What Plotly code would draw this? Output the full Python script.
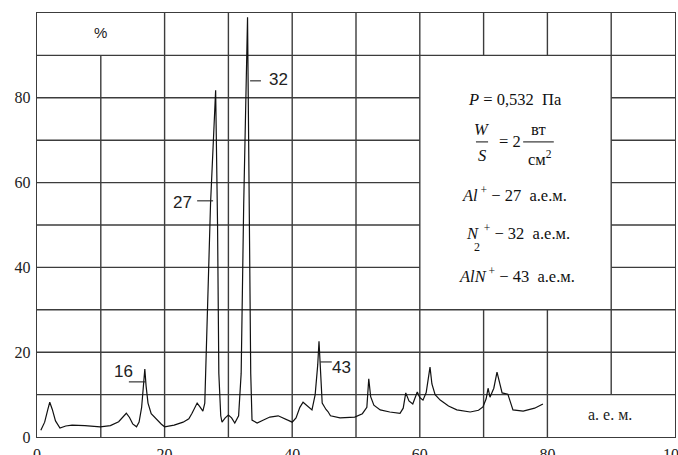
import plotly.graph_objects as go

# Mass spectrum (a.m.u. vs %)
mass = [0.6, 1.2, 1.7, 2.0, 2.4, 2.9, 3.6, 4.5, 5.5, 7.5, 9.9, 11.5, 12.8, 13.6, 14.0, 14.5,
        15.0, 15.6, 16.0, 16.4, 16.7, 16.9, 17.1, 17.4, 17.9, 18.8, 19.5, 20.0, 21.5, 22.9,
        23.8, 24.3, 24.7, 25.1, 25.6, 26.0, 26.3, 26.6, 27.2, 28.0, 28.3, 28.5, 28.8, 29.0,
        29.5, 30.0, 30.5, 31.0, 31.6, 32.0, 32.4, 33.0, 33.3, 33.5, 33.7, 34.5, 35.5, 36.5,
        37.8, 39.0, 40.0, 40.6, 41.2, 41.7, 42.3, 43.1, 43.6, 44.0, 44.2, 44.4, 44.7, 45.3,
        45.6, 46.0, 47.5, 49.8, 51.0, 51.7, 52.0, 52.3, 52.8, 53.8, 55.3, 56.9, 57.4, 57.8,
        58.3, 58.9, 59.3, 59.6, 60.0, 60.5, 61.0, 61.6, 61.9, 62.4, 63.2, 64.5, 65.8, 67.9,
        69.2, 69.9, 70.4, 70.7, 71.0, 71.6, 72.1, 72.5, 72.9, 73.8, 74.2, 74.6, 76.2, 78.0,
        79.3]
percent = [1.6, 3.5, 6.5, 8.2, 6.5, 3.8, 2.1, 2.6, 2.8, 2.7, 2.4, 2.7, 3.6, 4.8, 5.6, 4.6,
           3.1, 2.4, 3.5, 7.0, 12.0, 16.0, 12.0, 8.0, 5.5, 4.0, 3.0, 2.4, 2.8, 3.5,
           4.3, 5.6, 7.0, 8.0, 7.0, 6.1, 8.0, 25, 55, 81.8, 50, 15, 5, 3.5,
           4.5, 5.2, 4.5, 3.3, 5, 15, 55, 99, 55, 15, 4, 3.3, 4.0, 4.7,
           5.0, 4.2, 3.5, 4.5, 7.0, 8.2, 7.5, 6.4, 10, 17, 22.6, 15, 8.0, 6.5,
           6.0, 5.0, 4.5, 4.7, 5.5, 7.0, 13.7, 9.5, 7.5, 6.4, 5.9, 5.6, 6.8, 10.4,
           8.5, 7.8, 9.3, 10.6, 9.3, 8.7, 10.5, 16.5, 12.5, 10, 8.7, 7.3, 6.4, 5.9,
           6.3, 7.1, 9, 11.5, 9.4, 11.5, 15.3, 12.5, 10.4, 10.1, 8, 6.4, 6.1, 6.8,
           7.8]

x_ticks = [0, 20, 40, 60, 80, 100]
y_ticks = [0, 20, 40, 60, 80]
peak_labels = ["16", "27", "32", "43"]

GRID = "#3c3c3c"
SERIF = "Liberation Serif"
SANS = "Liberation Sans"

fig = go.Figure()
fig.add_trace(go.Scatter(x=mass, y=percent, mode="lines",
                         line=dict(color="#111", width=1.2), hoverinfo="skip"))

shapes = []
# irregular grid (merged cells)
vsegs = {10: [(0, 90)], 20: [(0, 100)], 30: [(0, 100)], 40: [(0, 100)], 50: [(0, 100)],
         60: [(0, 100)], 70: [(0, 30), (90, 100)], 80: [(0, 30), (90, 100)], 90: [(10, 100)]}
hsegs = {10: [(0, 100)], 20: [(0, 100)], 30: [(0, 100)], 40: [(0, 60), (90, 100)],
         50: [(0, 60), (90, 100)], 60: [(0, 60), (90, 100)], 70: [(0, 60), (90, 100)],
         80: [(0, 60), (90, 100)], 90: [(0, 100)]}
for xv, segs in vsegs.items():
    for a, b in segs:
        shapes.append(dict(type="line", xref="x", yref="y", x0=xv, x1=xv, y0=a, y1=b,
                           line=dict(color=GRID, width=1.4), layer="below"))
for yv, segs in hsegs.items():
    for a, b in segs:
        shapes.append(dict(type="line", xref="x", yref="y", x0=a, x1=b, y0=yv, y1=yv,
                           line=dict(color=GRID, width=1.4), layer="below"))

# peak leader lines
leaders = [(14.4, 17.0, 13.0), (25.1, 27.6, 55.7), (33.4, 35.1, 84.0), (44.4, 46.2, 17.7)]
for a, b, yv in leaders:
    shapes.append(dict(type="line", xref="x", yref="y", x0=a, x1=b, y0=yv, y1=yv,
                       line=dict(color="#222", width=1.1)))

# fraction bars in the legend box
shapes.append(dict(type="line", xref="x", yref="y", x0=68.8, x1=70.7, y0=69.6, y1=69.6,
                   line=dict(color="#222", width=1.1)))
shapes.append(dict(type="line", xref="x", yref="y", x0=76.2, x1=81.0, y0=69.6, y1=69.6,
                   line=dict(color="#222", width=1.1)))

ann = []
label_pos = [(13.6, 15.5), (22.8, 55.2), (37.9, 84.2), (47.8, 16.3)]
for t, (xa, ya) in zip(peak_labels, label_pos):
    ann.append(dict(x=xa, y=ya, text=t, showarrow=False,
                    font=dict(family=SANS, size=17, color="#222")))
ann.append(dict(x=9.9, y=95.5, text="%", showarrow=False,
                font=dict(family=SANS, size=15, color="#222")))
ann.append(dict(x=89.8, y=5.2, text="а. е. м.", showarrow=False,
                font=dict(family=SERIF, size=16, color="#222")))

lf = dict(family=SERIF, size=16.5, color="#111")
sf = dict(family=SERIF, size=12, color="#111")
ann += [
    dict(x=74.9, y=79.7, text="<i>P</i> = 0,532  Па", showarrow=False, font=lf),
    dict(x=69.7, y=72.6, text="<i>W</i>", showarrow=False, font=lf),
    dict(x=69.7, y=66.3, text="<i>S</i>", showarrow=False, font=lf),
    dict(x=74.1, y=69.6, text="= 2", showarrow=False, font=lf),
    dict(x=78.6, y=72.6, text="вт", showarrow=False, font=lf),
    dict(x=78.8, y=65.6, text="см<sup>2</sup>", showarrow=False, font=lf),
    dict(x=74.9, y=57.1, text="<i>Al</i><sup> +</sup> − 27  а.е.м.", showarrow=False, font=lf),
    dict(x=75.4, y=48.3, text="<i>N</i><sup>  +</sup> − 32  а.е.м.", showarrow=False, font=lf),
    dict(x=68.9, y=44.8, text="2", showarrow=False, font=sf),
    dict(x=75.2, y=38.2, text="<i>AlN</i><sup> +</sup> − 43  а.е.м.", showarrow=False, font=lf),
]

fig.update_layout(
    width=678, height=455,
    margin=dict(l=37, r=3, t=13, b=18),
    paper_bgcolor="white", plot_bgcolor="white",
    showlegend=False, shapes=shapes, annotations=ann,
    xaxis=dict(range=[0, 100], tickvals=x_ticks, ticktext=[str(v) for v in x_ticks],
               showgrid=False, zeroline=False, showline=True, mirror=True,
               linecolor=GRID, linewidth=1.4, ticks="outside", ticklen=3,
               tickcolor="rgba(0,0,0,0)", tickfont=dict(family=SERIF, size=16, color="#222"),
               automargin=False, ticklabeloverflow="allow", fixedrange=True),
    yaxis=dict(range=[0, 100], tickvals=y_ticks, ticktext=[str(v) for v in y_ticks],
               showgrid=False, zeroline=False, showline=True, mirror=True,
               linecolor=GRID, linewidth=1.4, ticks="outside", ticklen=2,
               tickcolor="rgba(0,0,0,0)", tickfont=dict(family=SERIF, size=16, color="#222"),
               automargin=False, ticklabeloverflow="allow", fixedrange=True),
)

fig.write_html("out.html", config={"displayModeBar": False},
               post_script="document.body.style.margin='0';document.body.style.overflow='hidden';")
